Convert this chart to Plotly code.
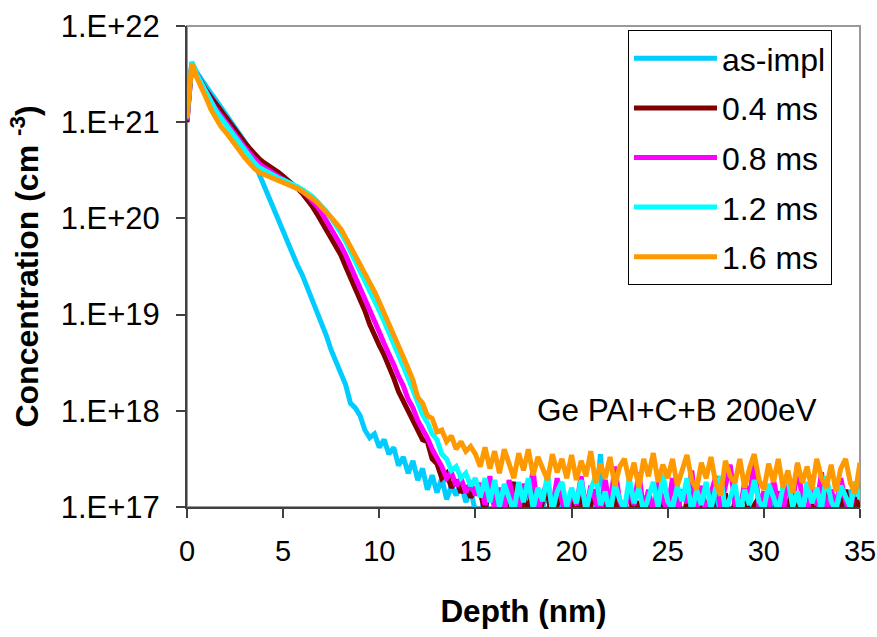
import plotly.graph_objects as go

# Depth grid (nm), sampled every 0.25 nm from 0 to 35
depth = [i * 0.25 for i in range(141)]

# log10 of concentration (cm^-3)
as_impl = [
    21.05, 21.62, 21.52, 21.44, 21.37, 21.30, 21.23, 21.16, 21.09, 21.02,
    20.95, 20.88, 20.80, 20.70, 20.58, 20.45, 20.34, 20.23, 20.11, 19.98,
    19.87, 19.75, 19.62, 19.51, 19.41, 19.29, 19.16, 19.05, 18.93, 18.78,
    18.63, 18.50, 18.40, 18.27, 18.08, 18.03, 17.95, 17.80, 17.72, 17.76,
    17.62, 17.70, 17.55, 17.62, 17.43, 17.52, 17.35, 17.48, 17.28, 17.40,
    17.18, 17.33, 17.15, 17.30, 17.08, 17.22, 17.12, 17.25, 17.05, 17.18,
    16.95,
    16.95, 17.08, 16.85, 17.02, 16.90, 17.12, 16.80, 16.98, 17.05, 16.88,
    17.10, 16.92, 16.82, 17.00, 17.15, 16.88, 16.95, 17.05, 16.85, 17.00,
    16.92, 17.10, 16.86, 17.20, 16.95, 17.55, 16.90, 17.02, 16.85, 17.08,
    16.95, 16.80, 17.05, 16.90, 17.12, 16.85, 16.98, 17.04, 16.88, 17.10,
    16.90, 17.00, 16.82, 17.08, 16.95, 17.15, 16.86, 17.00, 16.92, 17.10,
    16.85, 17.05, 16.95, 16.82, 17.10, 16.90, 17.02, 16.88, 17.12, 16.95,
    16.85, 17.05, 16.92, 17.20, 16.88, 17.00, 16.95, 17.10, 16.82, 17.02,
    16.90, 17.15, 16.86, 17.00, 16.95, 17.08, 16.88, 17.18, 16.92, 17.05,
]

ms_04 = [
    21.00, 21.60, 21.50, 21.41, 21.33, 21.26, 21.19, 21.12, 21.06, 21.00,
    20.93, 20.86, 20.79, 20.73, 20.67, 20.62, 20.58, 20.55, 20.52, 20.48,
    20.44, 20.40, 20.36, 20.31, 20.26, 20.20, 20.13, 20.05, 19.96, 19.87,
    19.79, 19.71, 19.62, 19.50, 19.39, 19.27, 19.16, 19.04, 18.90, 18.78,
    18.68, 18.58, 18.47, 18.34, 18.20, 18.10, 17.98, 17.90, 17.80, 17.70,
    17.68, 17.50, 17.45, 17.30, 17.35, 17.20, 17.28, 17.15, 17.22, 17.10,
    17.18,
    17.15, 16.95, 17.24, 17.00, 17.18, 16.90, 17.12, 17.26, 16.88, 17.10,
    16.96, 17.20, 16.86, 17.06, 17.16, 16.84, 17.02, 17.14, 16.88, 17.06,
    16.90, 17.15, 16.86, 17.02, 17.18, 16.84, 17.06, 16.92, 17.14, 16.86,
    17.00, 17.16, 16.88, 17.06, 16.82, 17.10, 16.92, 17.20, 16.86, 17.02,
    16.92, 17.12, 16.84, 17.04, 17.16, 16.86, 17.06, 16.92, 17.18, 16.88,
    17.00, 17.14, 16.84, 17.06, 16.92, 17.22, 16.86, 17.02, 17.10, 16.88,
    17.06, 16.84, 17.16, 16.92, 17.00, 17.18, 16.86, 17.06, 16.92, 17.14,
    16.84, 17.02, 17.16, 16.88, 17.06, 16.94, 17.18, 16.86, 17.10, 16.98,
]

ms_08 = [
    21.02, 21.61, 21.50, 21.40, 21.31, 21.22, 21.14, 21.07, 21.00, 20.93,
    20.87, 20.80, 20.74, 20.68, 20.62, 20.57, 20.53, 20.50, 20.47, 20.44,
    20.41, 20.38, 20.35, 20.32, 20.28, 20.24, 20.19, 20.13, 20.06, 19.98,
    19.90, 19.81, 19.72, 19.62, 19.51, 19.40, 19.29, 19.17, 19.05, 18.93,
    18.82, 18.70, 18.60, 18.48, 18.36, 18.26, 18.12, 18.03, 17.90, 17.82,
    17.72, 17.60, 17.52, 17.42, 17.30, 17.36, 17.22, 17.30, 17.15, 17.25,
    17.12,
    17.25, 17.02, 17.32, 16.98, 17.20, 16.92, 17.28, 17.06, 16.96, 17.24,
    17.10, 17.38, 16.95, 17.14, 17.26, 17.00, 17.30, 17.06, 16.90, 17.18,
    17.02, 17.32, 16.96, 17.22, 17.08, 16.90, 17.28, 17.00, 17.42, 17.06,
    16.94, 17.20, 17.02, 17.36, 16.96, 17.18, 16.92, 17.26, 17.06, 16.98,
    17.30, 16.94, 17.18, 17.04, 17.38, 16.96, 17.22, 16.90, 17.14, 17.32,
    17.00, 17.20, 17.44, 17.02, 16.94, 17.26, 17.08, 17.48, 17.00, 17.16,
    16.96, 17.28, 17.04, 16.92, 17.34, 17.00, 17.45, 17.08, 16.94, 17.22,
    17.02, 17.36, 16.90, 17.18, 17.00, 17.30, 17.06, 16.94, 17.26, 17.10,
]

ms_12 = [
    21.04, 21.63, 21.50, 21.40, 21.30, 21.20, 21.12, 21.05, 20.98, 20.91,
    20.84, 20.77, 20.70, 20.63, 20.58, 20.53, 20.50, 20.47, 20.45, 20.42,
    20.40, 20.38, 20.36, 20.33, 20.30, 20.27, 20.23, 20.18, 20.13, 20.07,
    20.00, 19.93, 19.85, 19.76, 19.66, 19.56, 19.46, 19.36, 19.26, 19.15,
    19.04, 18.93, 18.82, 18.70, 18.58, 18.46, 18.34, 18.22, 18.08, 17.96,
    17.88, 17.76, 17.70, 17.55, 17.50, 17.38, 17.42, 17.30, 17.35, 17.22,
    17.30,
    17.10, 17.30, 17.05, 17.28, 17.00, 17.24, 17.10, 16.95, 17.26, 17.05,
    17.30, 16.98, 17.20, 17.06, 17.34, 16.95, 17.16, 17.26, 17.00, 17.20,
    17.04, 17.28, 16.96, 17.18, 17.32, 17.02, 17.16, 16.92, 17.24, 17.08,
    16.98, 17.30, 17.04, 17.20, 16.94, 17.12, 17.26, 17.00, 17.34, 17.06,
    16.98, 17.22, 17.06, 17.30, 16.94, 17.18, 17.02, 17.26, 16.98, 17.20,
    17.32, 16.96, 17.10, 17.24, 16.92, 17.18, 17.02, 17.28, 17.06, 16.98,
    17.24, 17.08, 16.96, 17.22, 17.30, 17.00, 17.16, 16.94, 17.26, 17.04,
    17.20, 16.98, 17.32, 17.06, 16.96, 17.22, 17.10, 17.00, 17.26, 17.08,
]

ms_16 = [
    21.05, 21.61, 21.47, 21.37, 21.25, 21.13, 21.04, 20.96, 20.90, 20.84,
    20.76, 20.70, 20.63, 20.57, 20.52, 20.48, 20.46, 20.44, 20.42, 20.40,
    20.38, 20.36, 20.34, 20.31, 20.28, 20.25, 20.21, 20.17, 20.12, 20.07,
    20.01, 19.95, 19.89, 19.80, 19.71, 19.62, 19.52, 19.43, 19.34, 19.24,
    19.13, 19.02, 18.92, 18.80, 18.68, 18.56, 18.44, 18.32, 18.14, 18.08,
    17.95, 17.92, 17.78, 17.80, 17.68, 17.74, 17.60, 17.68, 17.58, 17.63,
    17.55,
    17.42, 17.62, 17.40, 17.58, 17.35, 17.60, 17.45, 17.30, 17.56, 17.38,
    17.60, 17.33, 17.52, 17.40, 17.28, 17.55, 17.36, 17.50, 17.30, 17.54,
    17.28, 17.48, 17.32, 17.58, 17.25, 17.45, 17.30, 17.52, 17.22, 17.42,
    17.50, 17.27, 17.46, 17.20, 17.50, 17.32, 17.56, 17.26, 17.44, 17.30,
    17.50, 17.22, 17.40, 17.54, 17.28, 17.18, 17.46, 17.30, 17.52, 17.24,
    17.12, 17.48, 17.32, 17.25, 17.50, 17.20, 17.40, 17.55, 17.28, 17.18,
    17.45, 17.26, 17.50, 17.20, 17.38, 17.15, 17.46, 17.25, 17.42, 17.18,
    17.50, 17.30, 17.20, 17.44, 17.16, 17.40, 17.50, 17.25, 17.14, 17.46,
]

series_names = ["as-impl", "0.4 ms", "0.8 ms", "1.2 ms", "1.6 ms"]
series_values = [as_impl, ms_04, ms_08, ms_12, ms_16]
series_colors = ["#00CCFF", "#800000", "#FF00FF", "#00FFFF", "#FF9900"]

y_tick_exponents = [17, 18, 19, 20, 21, 22]
y_tick_labels = ["1.E+17", "1.E+18", "1.E+19", "1.E+20", "1.E+21", "1.E+22"]
x_ticks = [0, 5, 10, 15, 20, 25, 30, 35]

FONT = "Liberation Sans, Arial, sans-serif"

fig = go.Figure()
for name, vals, col in zip(series_names, series_values, series_colors):
    fig.add_trace(go.Scatter(
        x=depth, y=[10.0 ** v for v in vals], mode="lines", name=name,
        legendgroup=name,
        line=dict(color=col, width=5),
    ))

fig.update_layout(
    width=877, height=637,
    margin=dict(l=187, r=17, t=26, b=130),
    paper_bgcolor="white", plot_bgcolor="white",
    font=dict(family=FONT, color="black", size=29),
    showlegend=True,
    legend=dict(
        x=(628 - 187) / 673, y=1 - (30 - 26) / 481, xanchor="left", yanchor="top",
        bgcolor="white", bordercolor="black", borderwidth=1,
        font=dict(family=FONT, size=32, color="black"),
        tracegroupgap=5, itemwidth=83,
    ),
    xaxis=dict(
        range=[0, 35], tickvals=x_ticks, ticktext=[str(v) for v in x_ticks],
        showgrid=False, zeroline=False, automargin=False,
        showline=True, linecolor="#404040", linewidth=2,
        ticks="outside", ticklen=9, tickwidth=1.5, tickcolor="#404040",
        tickfont=dict(family=FONT, size=29), ticklabelstandoff=8,
        title=dict(text="Depth (nm)", font=dict(family=FONT, size=31.5, weight="bold"), standoff=34),
    ),
    yaxis=dict(
        type="log", range=[17, 22],
        tickvals=[10.0 ** e for e in y_tick_exponents], ticktext=y_tick_labels,
        showgrid=False, zeroline=False, automargin=False,
        showline=True, linecolor="#404040", linewidth=2,
        ticks="outside", ticklen=9, tickwidth=1.5, tickcolor="#404040",
        tickfont=dict(family=FONT, size=31), ticklabelstandoff=10,
        title=dict(text="Concentration (cm <sup>-3</sup>)", font=dict(family=FONT, size=32, weight="bold"), standoff=12),
    ),
    shapes=[dict(type="rect", xref="paper", yref="paper", x0=0, y0=0, x1=1, y1=1,
                 line=dict(color="#999999", width=2), layer="below")],
    annotations=[dict(text="Ge PAI+C+B 200eV", xref="paper", yref="paper",
                      x=(819 - 187) / 673, y=1 - (410 - 26) / 481,
                      xanchor="right", yanchor="middle", showarrow=False,
                      font=dict(family=FONT, size=31.5, color="black"))],
)

fig.write_html("out.html")
